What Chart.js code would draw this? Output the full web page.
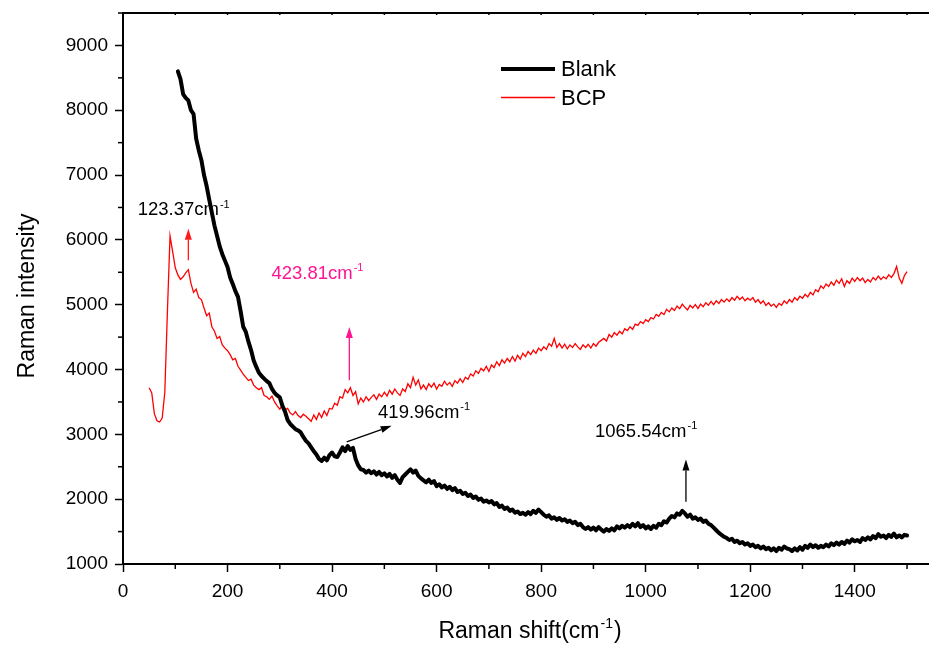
<!DOCTYPE html>
<html>
<head>
<meta charset="utf-8">
<script src="https://cdn.jsdelivr.net/npm/chart.js@4.4.1/dist/chart.umd.min.js"></script>
<style>
  html, body { margin: 0; padding: 0; background: #fff; overflow: hidden; }
  #wrap { width: 929px; height: 646px; }
</style>
</head>
<body>
<div id="wrap"><canvas id="raman" width="929" height="646"></canvas></div>
<script>
// Raman shift (cm-1) and intensity
const blankShift = [
  105, 110, 115, 120, 125, 130, 135, 140, 145, 150,
  155, 160, 165, 170, 175, 180, 185, 190, 195, 200,
  205, 210, 215, 220, 225, 230, 235, 240, 245, 250,
  255, 260, 265, 270, 275, 280, 285, 290, 295, 300,
  305, 310, 315, 320, 325, 330, 335, 340, 345, 350,
  355, 360, 365, 370, 375, 380, 385, 390, 395, 400,
  405, 410, 415, 420, 425, 430, 435, 440, 445, 450,
  455, 460, 465, 470, 475, 480, 485, 490, 495, 500,
  505, 510, 515, 520, 525, 530, 535, 540, 545, 550,
  555, 560, 565, 570, 575, 580, 585, 590, 595, 600,
  605, 610, 615, 620, 625, 630, 635, 640, 645, 650,
  655, 660, 665, 670, 675, 680, 685, 690, 695, 700,
  705, 710, 715, 720, 725, 730, 735, 740, 745, 750,
  755, 760, 765, 770, 775, 780, 785, 790, 795, 800,
  805, 810, 815, 820, 825, 830, 835, 840, 845, 850,
  855, 860, 865, 870, 875, 880, 885, 890, 895, 900,
  905, 910, 915, 920, 925, 930, 935, 940, 945, 950,
  955, 960, 965, 970, 975, 980, 985, 990, 995, 1000,
  1005, 1010, 1015, 1020, 1025, 1030, 1035, 1040, 1045, 1050,
  1055, 1060, 1065, 1070, 1075, 1080, 1085, 1090, 1095, 1100,
  1105, 1110, 1115, 1120, 1125, 1130, 1135, 1140, 1145, 1150,
  1155, 1160, 1165, 1170, 1175, 1180, 1185, 1190, 1195, 1200,
  1205, 1210, 1215, 1220, 1225, 1230, 1235, 1240, 1245, 1250,
  1255, 1260, 1265, 1270, 1275, 1280, 1285, 1290, 1295, 1300,
  1305, 1310, 1315, 1320, 1325, 1330, 1335, 1340, 1345, 1350,
  1355, 1360, 1365, 1370, 1375, 1380, 1385, 1390, 1395, 1400,
  1405, 1410, 1415, 1420, 1425, 1430, 1435, 1440, 1445, 1450,
  1455, 1460, 1465, 1470, 1475, 1480, 1485, 1490, 1495, 1500
];
const blankIntensity = [
  8600, 8480, 8250, 8190, 8150, 8000, 7940, 7560, 7380, 7230,
  7000, 6830, 6620, 6420, 6220, 6060, 5900, 5780, 5680, 5580,
  5420, 5320, 5210, 5120, 4900, 4660, 4580, 4430, 4300, 4140,
  4040, 3950, 3900, 3860, 3820, 3790, 3700, 3640, 3600, 3570,
  3440, 3350, 3220, 3160, 3120, 3080, 3060, 3030, 2960, 2900,
  2860, 2800, 2740, 2690, 2620, 2590, 2640, 2600, 2680, 2720,
  2660, 2650, 2720, 2800, 2740, 2820, 2760, 2790, 2620, 2520,
  2460, 2450, 2410, 2440, 2400, 2430, 2380, 2420, 2370, 2400,
  2350, 2390, 2330, 2370, 2300, 2250, 2340, 2380, 2420, 2460,
  2410, 2440, 2360, 2320, 2290, 2260, 2300, 2250, 2280, 2200,
  2230, 2180, 2210, 2160, 2190, 2140, 2170, 2110, 2130, 2080,
  2100, 2050, 2070, 2020, 2040, 1990, 2010, 1960, 1980, 1950,
  1970, 1920, 1940, 1880, 1900, 1850, 1870, 1820, 1840, 1790,
  1810, 1770, 1790, 1760, 1800, 1770, 1820, 1790, 1840, 1800,
  1760, 1730, 1750, 1700, 1720, 1680, 1710, 1670, 1690, 1650,
  1670, 1630, 1650, 1600, 1620, 1570, 1540, 1570, 1530, 1560,
  1520, 1570, 1530, 1500, 1540, 1510, 1550, 1520, 1580, 1550,
  1590, 1560, 1600, 1570, 1620, 1580, 1630, 1570, 1600, 1550,
  1580, 1540, 1590, 1560, 1620, 1600, 1660, 1640, 1700, 1740,
  1720, 1780, 1760, 1820, 1780, 1730, 1760, 1700, 1720, 1680,
  1700, 1650, 1670, 1620, 1600, 1560, 1520, 1480, 1450, 1420,
  1400, 1370, 1390, 1340, 1360, 1320, 1340, 1300, 1320, 1280,
  1300, 1260, 1280, 1240, 1270, 1230, 1250, 1210, 1240, 1200,
  1250, 1220, 1270, 1240, 1230, 1200, 1240, 1210, 1260, 1220,
  1280, 1250, 1300, 1260, 1290, 1250, 1280, 1260, 1300, 1270,
  1320, 1290, 1330, 1300, 1340, 1310, 1360, 1330, 1380, 1350,
  1370, 1340, 1400, 1370, 1410, 1380, 1430, 1400, 1460, 1420,
  1440, 1400, 1450, 1420, 1470, 1410, 1440, 1410, 1450, 1440
];

const bcpShift = [
  50, 55, 60, 65, 70, 75, 80, 85, 90, 95,
  100, 105, 110, 115, 120, 125, 130, 135, 140, 145,
  150, 155, 160, 165, 170, 175, 180, 185, 190, 195,
  200, 205, 210, 215, 220, 225, 230, 235, 240, 245,
  250, 255, 260, 265, 270, 275, 280, 285, 290, 295,
  300, 305, 310, 315, 320, 325, 330, 335, 340, 345,
  350, 355, 360, 365, 370, 375, 380, 385, 390, 395,
  400, 405, 410, 415, 420, 425, 430, 435, 440, 445,
  450, 455, 460, 465, 470, 475, 480, 485, 490, 495,
  500, 505, 510, 515, 520, 525, 530, 535, 540, 545,
  550, 555, 560, 565, 570, 575, 580, 585, 590, 595,
  600, 605, 610, 615, 620, 625, 630, 635, 640, 645,
  650, 655, 660, 665, 670, 675, 680, 685, 690, 695,
  700, 705, 710, 715, 720, 725, 730, 735, 740, 745,
  750, 755, 760, 765, 770, 775, 780, 785, 790, 795,
  800, 805, 810, 815, 820, 825, 830, 835, 840, 845,
  850, 855, 860, 865, 870, 875, 880, 885, 890, 895,
  900, 905, 910, 915, 920, 925, 930, 935, 940, 945,
  950, 955, 960, 965, 970, 975, 980, 985, 990, 995,
  1000, 1005, 1010, 1015, 1020, 1025, 1030, 1035, 1040, 1045,
  1050, 1055, 1060, 1065, 1070, 1075, 1080, 1085, 1090, 1095,
  1100, 1105, 1110, 1115, 1120, 1125, 1130, 1135, 1140, 1145,
  1150, 1155, 1160, 1165, 1170, 1175, 1180, 1185, 1190, 1195,
  1200, 1205, 1210, 1215, 1220, 1225, 1230, 1235, 1240, 1245,
  1250, 1255, 1260, 1265, 1270, 1275, 1280, 1285, 1290, 1295,
  1300, 1305, 1310, 1315, 1320, 1325, 1330, 1335, 1340, 1345,
  1350, 1355, 1360, 1365, 1370, 1375, 1380, 1385, 1390, 1395,
  1400, 1405, 1410, 1415, 1420, 1425, 1430, 1435, 1440, 1445,
  1450, 1455, 1460, 1465, 1470, 1475, 1480, 1485, 1490, 1495,
  1500
];
const bcpIntensity = [
  3720, 3640, 3320, 3210, 3190, 3250, 3650, 4900, 6060, 5820,
  5570, 5460, 5390, 5430, 5490, 5540, 5330, 5190, 5240, 5110,
  5080, 4950, 4830, 4870, 4660, 4590, 4480, 4510, 4380, 4330,
  4290, 4230, 4150, 4170, 4050, 3990, 3930, 3880, 3830, 3850,
  3760, 3720, 3690, 3720, 3600, 3580, 3540, 3590, 3500, 3440,
  3390, 3450, 3380, 3400, 3330, 3300, 3350, 3290, 3260, 3310,
  3280, 3240, 3200, 3300, 3230, 3330, 3260, 3360, 3290, 3400,
  3390, 3480, 3450, 3580, 3560, 3690, 3640, 3720, 3600, 3660,
  3470, 3560, 3500, 3580, 3520, 3570, 3610, 3540, 3620, 3580,
  3650, 3590, 3680, 3620, 3700, 3640, 3600, 3700, 3660, 3780,
  3720, 3880, 3760, 3840, 3700, 3760, 3690, 3780, 3730, 3790,
  3700, 3770, 3740, 3820, 3760, 3800, 3740, 3830, 3790, 3860,
  3800, 3880, 3850, 3930, 3900, 3980, 3940, 4020, 3980, 4050,
  3970, 4070, 4030, 4120, 4060, 4150, 4100, 4170, 4120, 4200,
  4130, 4220, 4160, 4250, 4200, 4280, 4230, 4300, 4250, 4330,
  4290, 4350, 4310, 4400, 4360, 4480, 4340, 4400, 4330, 4390,
  4320, 4380, 4340, 4400, 4350, 4310, 4380, 4340, 4390, 4330,
  4400, 4360, 4420, 4450, 4480, 4440, 4540, 4500, 4570, 4530,
  4590, 4550, 4630, 4600, 4660, 4620, 4700, 4680, 4740, 4710,
  4770, 4740, 4800, 4780, 4850, 4820, 4880, 4850, 4930, 4890,
  4950, 4910, 4980, 4940, 5010, 4960, 4920, 4990, 4950, 5000,
  4940, 5010, 4970, 5030, 4990, 5050, 5000, 5060, 5020, 5080,
  5040, 5090, 5050, 5110, 5070, 5130, 5080, 5120, 5060, 5100,
  5070, 5110, 5040, 5080, 5020, 5060, 4990, 5030, 4980, 5010,
  4960, 5020, 4990, 5060, 5020, 5080, 5040, 5110, 5070, 5130,
  5100, 5160, 5120, 5190, 5150, 5230, 5200, 5290, 5250, 5320,
  5280, 5350, 5300, 5380, 5330, 5400, 5280, 5370, 5330, 5410,
  5360, 5420, 5370, 5410, 5340, 5390, 5350, 5420, 5380, 5440,
  5390, 5430, 5400, 5460, 5420, 5480, 5590, 5410, 5330, 5450,
  5510
];

const seriesNames = ['Blank', 'BCP'];
const xTickValues = [0, 200, 400, 600, 800, 1000, 1200, 1400];
const yTickValues = [1000, 2000, 3000, 4000, 5000, 6000, 7000, 8000, 9000];

// peak labels: text anchor and arrow ends, in data units
const peakNotes = [
  { text: '123.37cm', at: [28, 6378], from: [125, 5684], to: [125, 6173], textColor: '#000000', arrowColor: '#ff1a1a' },
  { text: '423.81cm', at: [284, 5402], from: [433, 3835], to: [433, 4656], textColor: '#ff1493', arrowColor: '#ff1493' },
  { text: '419.96cm', at: [488, 3250], from: [428, 2884], to: [514, 3131], textColor: '#000000', arrowColor: '#000000' },
  { text: '1065.54cm', at: [903, 2957], from: [1077, 1960], to: [1077, 2613], textColor: '#000000', arrowColor: '#000000' }
];

const FONT = "'Liberation Sans', Arial, sans-serif";

function toPoints(xs, ys) {
  return xs.map((x, i) => ({ x: x, y: ys[i] }));
}

function drawWithSup(ctx, base, sup, x, y, size, suffix) {
  ctx.font = size + 'px ' + FONT;
  ctx.fillText(base, x, y);
  const w = ctx.measureText(base).width;
  ctx.font = Math.round(size * 0.6) + 'px ' + FONT;
  ctx.fillText(sup, x + w + 1, y - size * 0.42);
  const sw = ctx.measureText(sup).width;
  if (suffix) {
    ctx.font = size + 'px ' + FONT;
    ctx.fillText(suffix, x + w + sw + 2, y);
  }
}

function measureWithSup(ctx, base, sup, size, suffix) {
  ctx.font = size + 'px ' + FONT;
  let w = ctx.measureText(base).width + 1;
  ctx.font = Math.round(size * 0.6) + 'px ' + FONT;
  w += ctx.measureText(sup).width;
  if (suffix) {
    ctx.font = size + 'px ' + FONT;
    w += 1 + ctx.measureText(suffix).width;
  }
  return w;
}

function arrow(ctx, x1, y1, x2, y2, color) {
  const ang = Math.atan2(y2 - y1, x2 - x1);
  const headLen = 11, headHalf = 3.5;
  const bx = x2 - headLen * Math.cos(ang), by = y2 - headLen * Math.sin(ang);
  ctx.strokeStyle = color;
  ctx.fillStyle = color;
  ctx.lineWidth = 1.3;
  ctx.beginPath();
  ctx.moveTo(x1, y1);
  ctx.lineTo(bx, by);
  ctx.stroke();
  ctx.beginPath();
  ctx.moveTo(x2, y2);
  ctx.lineTo(bx - headHalf * Math.sin(ang), by + headHalf * Math.cos(ang));
  ctx.lineTo(bx + headHalf * Math.sin(ang), by - headHalf * Math.cos(ang));
  ctx.closePath();
  ctx.fill();
}

const decorPlugin = {
  id: 'decor',
  afterDraw(chart) {
    const ctx = chart.ctx;
    const xs = chart.scales.x, ys = chart.scales.y;
    const area = chart.chartArea;
    ctx.save();

    // minor ticks
    ctx.strokeStyle = '#000';
    ctx.lineWidth = 1.5;
    for (let v = 100; v <= xs.max; v += 200) {
      const px = xs.getPixelForValue(v);
      ctx.beginPath();
      ctx.moveTo(px, area.bottom);
      ctx.lineTo(px, area.bottom + 5);
      ctx.stroke();
    }
    for (let v = 100; v <= xs.max; v += 100) {
      const px = xs.getPixelForValue(v);
      ctx.beginPath();
      ctx.moveTo(px, area.top - 1);
      ctx.lineTo(px, area.top + 2);
      ctx.stroke();
    }
    for (let v = 1500; v <= ys.max; v += 1000) {
      const py = ys.getPixelForValue(v);
      ctx.beginPath();
      ctx.moveTo(area.left, py);
      ctx.lineTo(area.left - 5, py);
      ctx.stroke();
    }

    // axis titles
    ctx.fillStyle = '#000';
    ctx.textBaseline = 'alphabetic';
    ctx.textAlign = 'left';
    const tw = measureWithSup(ctx, 'Raman shift(cm', '-1', 23, ')');
    drawWithSup(ctx, 'Raman shift(cm', '-1', 530 - tw / 2, 638, 23, ')');

    ctx.save();
    ctx.translate(34, 296);
    ctx.rotate(-Math.PI / 2);
    ctx.font = '23px ' + FONT;
    ctx.textAlign = 'center';
    ctx.fillText('Raman intensity', 0, 0);
    ctx.restore();

    // peak annotations
    peakNotes.forEach(n => {
      arrow(ctx, xs.getPixelForValue(n.from[0]), ys.getPixelForValue(n.from[1]),
        xs.getPixelForValue(n.to[0]), ys.getPixelForValue(n.to[1]), n.arrowColor);
      ctx.fillStyle = n.textColor;
      ctx.textAlign = 'left';
      drawWithSup(ctx, n.text, '-1', xs.getPixelForValue(n.at[0]), ys.getPixelForValue(n.at[1]), 18.5);
    });

    // legend
    const lx = area.left + 378, ly = area.top + 56;
    chart.data.datasets.forEach((ds, i) => {
      const y = ly + i * 28.5;
      ctx.strokeStyle = ds.borderColor;
      ctx.lineWidth = ds.borderWidth;
      ctx.beginPath();
      ctx.moveTo(lx, y);
      ctx.lineTo(lx + 54, y);
      ctx.stroke();
      ctx.fillStyle = '#000';
      ctx.font = '22px ' + FONT;
      ctx.textBaseline = 'middle';
      ctx.fillText(ds.label, lx + 60, y + 1);
    });
    ctx.restore();
  }
};

new Chart(document.getElementById('raman'), {
  type: 'line',
  data: {
    datasets: [
      {
        label: seriesNames[0],
        data: toPoints(blankShift, blankIntensity),
        borderColor: '#000000',
        borderWidth: 4,
        borderJoinStyle: 'round',
        borderCapStyle: 'round',
        pointRadius: 0,
        tension: 0
      },
      {
        label: seriesNames[1],
        data: toPoints(bcpShift, bcpIntensity),
        borderColor: '#ff0000',
        borderWidth: 1.3,
        pointRadius: 0,
        tension: 0
      }
    ]
  },
  options: {
    responsive: false,
    animation: false,
    events: [],
    layout: { padding: 0 },
    plugins: {
      legend: { display: false },
      tooltip: { enabled: false }
    },
    scales: {
      x: {
        type: 'linear',
        position: 'bottom',
        min: 0,
        max: 1542,
        afterBuildTicks: s => { s.ticks = xTickValues.map(v => ({ value: v })); },
        afterFit: s => { s.height = 82; s.paddingLeft = 0; s.paddingRight = 0; },
        ticks: { color: '#000', font: { family: FONT, size: 19 }, padding: 8, maxRotation: 0, autoSkip: false, callback: v => String(v) },
        grid: { drawOnChartArea: false, color: '#000', tickLength: 8, tickWidth: 1.5 },
        border: { color: '#000', width: 2 }
      },
      xTop: {
        type: 'linear',
        position: 'top',
        min: 0,
        max: 1542,
        afterFit: s => { s.height = 13; s.paddingLeft = 0; s.paddingRight = 0; },
        ticks: { display: false },
        grid: { display: false },
        border: { color: '#000', width: 2 }
      },
      y: {
        type: 'linear',
        min: 1000,
        max: 9500,
        afterBuildTicks: s => { s.ticks = yTickValues.map(v => ({ value: v })); },
        afterFit: s => { s.width = 123; s.paddingTop = 0; s.paddingBottom = 0; },
        ticks: { color: '#000', font: { family: FONT, size: 19 }, padding: 7, callback: v => String(v) },
        grid: { drawOnChartArea: false, color: '#000', tickLength: 8, tickWidth: 1.5 },
        border: { color: '#000', width: 2 }
      }
    }
  },
  plugins: [decorPlugin]
});
</script>
</body>
</html>
